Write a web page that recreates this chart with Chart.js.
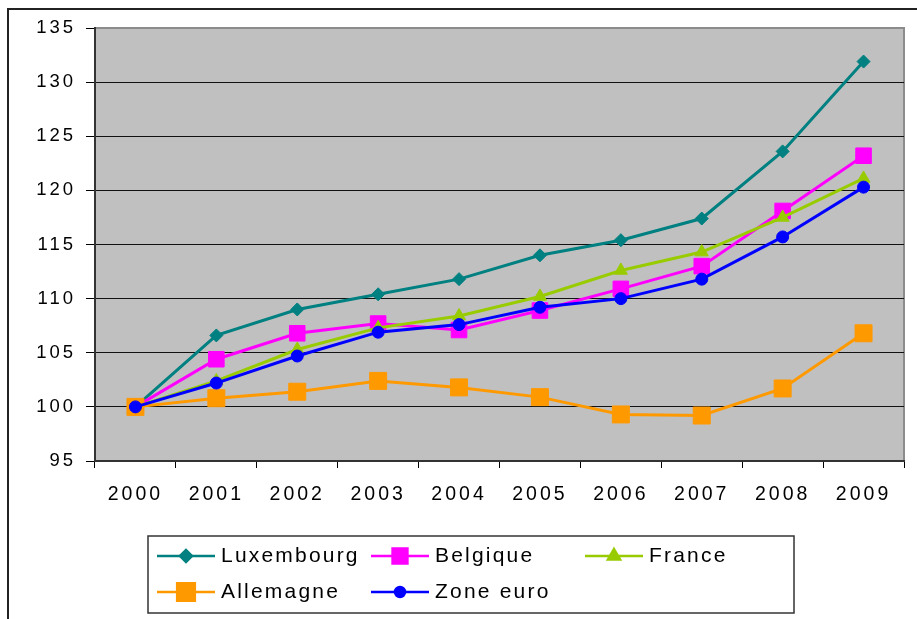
<!DOCTYPE html>
<html>
<head>
<meta charset="utf-8">
<script src="https://cdn.jsdelivr.net/npm/chart.js@4.4.1/dist/chart.umd.min.js"></script>
<style>
  html, body { margin: 0; padding: 0; background: #fff; overflow: hidden; }
  #frame { position: absolute; left: 7px; top: 8px; width: 1000px; height: 1000px; border: 2px solid #222; }
  #myChart { position: absolute; left: 0; top: 0; }
</style>
</head>
<body>
<div id="frame"></div>
<canvas id="myChart" width="917" height="619"></canvas>
<script>
'use strict'

let years = ['2000', '2001', '2002', '2003', '2004', '2005', '2006', '2007', '2008', '2009']
let luxembourg = [100, 106.6, 109.0, 110.4, 111.8, 114.0, 115.4, 117.4, 123.6, 131.9]
let belgique = [100, 104.4, 106.8, 107.7, 107.1, 108.9, 110.9, 113.0, 118.1, 123.2]
let france = [100, 102.4, 105.3, 107.3, 108.4, 110.2, 112.6, 114.3, 117.5, 121.1]
let allemagne = [100, 100.8, 101.4, 102.4, 101.8, 100.9, 99.3, 99.2, 101.7, 106.8]
let zoneEuro = [100, 102.2, 104.7, 106.9, 107.6, 109.2, 110.0, 111.8, 115.7, 120.3]
let yTicks = [95, 100, 105, 110, 115, 120, 125, 130, 135]

let fontFamily = "'Liberation Sans', Arial, sans-serif"

function makeSet(label, data, color, style, radius, legendRadius, order) {
    return {
        label: label,
        data: data,
        borderColor: color,
        backgroundColor: color,
        borderWidth: 3,
        pointStyle: style,
        pointRadius: radius,
        pointHoverRadius: radius,
        pointBorderWidth: 1,
        pointBackgroundColor: color,
        pointBorderColor: color,
        legendRadius: legendRadius,
        order: order
    }
}

let datasets = [
    makeSet('Luxembourg', luxembourg, '#008080', 'rectRot', 6.5, 6, 4),
    makeSet('Belgique', belgique, '#ff00ff', 'rect', 11, 10.5, 3),
    makeSet('France', france, '#99cc00', 'triangle', 7.5, 7, 2),
    makeSet('Allemagne', allemagne, '#ff9900', 'rect', 12, 12.5, 1),
    makeSet('Zone euro', zoneEuro, '#0000ff', 'circle', 6, 5, 0)
]

// the original text is drawn wide, so space the letters out a bit
let spacingPlugin = {
    id: 'spacing',
    beforeUpdate(chart) { chart.ctx.letterSpacing = '3px' },
    beforeDraw(chart) { chart.ctx.letterSpacing = '3px' }
}

let plotBg = {
    id: 'plotBg',
    beforeDraw(chart) {
        let ctx = chart.ctx
        let a = chart.chartArea
        ctx.save()
        ctx.fillStyle = '#c0c0c0'
        ctx.fillRect(a.left, a.top, a.right - a.left, a.bottom - a.top)
        ctx.strokeStyle = '#8c8c8c'
        ctx.lineWidth = 2
        ctx.strokeRect(a.left, a.top, a.right - a.left, a.bottom - a.top)
        ctx.restore()
    }
}

let boxLegend = {
    id: 'boxLegend',
    afterDraw(chart) {
        let ctx = chart.ctx
        let cols = [157, 371, 585]
        let rows = [556, 592]
        ctx.save()
        ctx.fillStyle = '#fff'
        ctx.strokeStyle = '#333'
        ctx.lineWidth = 1.5
        ctx.fillRect(148, 536, 646, 77)
        ctx.strokeRect(148, 536, 646, 77)
        chart.data.datasets.forEach(function (ds, i) {
            let x = cols[i % 3]
            let y = rows[Math.floor(i / 3)]
            ctx.strokeStyle = ds.borderColor
            ctx.lineWidth = 2.5
            ctx.beginPath()
            ctx.moveTo(x, y)
            ctx.lineTo(x + 58, y)
            ctx.stroke()
            ctx.fillStyle = ds.borderColor
            Chart.helpers.drawPoint(ctx, { pointStyle: ds.pointStyle, radius: ds.legendRadius, rotation: 0, borderWidth: 1 }, x + 29, y)
            ctx.fillStyle = '#000'
            ctx.letterSpacing = '2.2px'
            ctx.font = '21px ' + fontFamily
            ctx.textBaseline = 'middle'
            ctx.textAlign = 'left'
            ctx.fillText(ds.label, x + 64, y)
        })
        ctx.restore()
    }
}

let ctx = document.getElementById('myChart')
const myChart = new Chart(ctx, {
    type: 'line',
    data: {
        labels: years,
        datasets: datasets
    },
    plugins: [spacingPlugin, plotBg, boxLegend],
    options: {
        responsive: false,
        animation: false,
        layout: { padding: { left: 0, top: 28, right: 5, bottom: 58 } },
        plugins: {
            legend: { display: false },
            tooltip: { enabled: false }
        },
        scales: {
            x: {
                offset: true,
                ticks: { color: '#000', font: { family: fontFamily, size: 19.5 }, padding: 15, maxRotation: 0, autoSkip: false },
                grid: { offset: true, drawOnChartArea: false, tickColor: '#000', tickLength: 7 },
                border: { color: '#333', width: 2 },
                afterFit(scale) { scale.height = 100 }
            },
            y: {
                min: yTicks[0],
                max: yTicks[yTicks.length - 1],
                afterBuildTicks(scale) { scale.ticks = yTicks.map(v => ({ value: v })) },
                ticks: { color: '#000', font: { family: fontFamily, size: 18.5 }, padding: 10 },
                grid: {
                    color: c => c.tick && c.tick.value === 135 ? 'rgba(0,0,0,0)' : '#111',
                    tickColor: '#000',
                    tickLength: 9,
                    lineWidth: 1
                },
                border: { color: '#333', width: 2 },
                afterFit(scale) { scale.width = 95 }
            }
        }
    }
})
</script>
</body>
</html>
